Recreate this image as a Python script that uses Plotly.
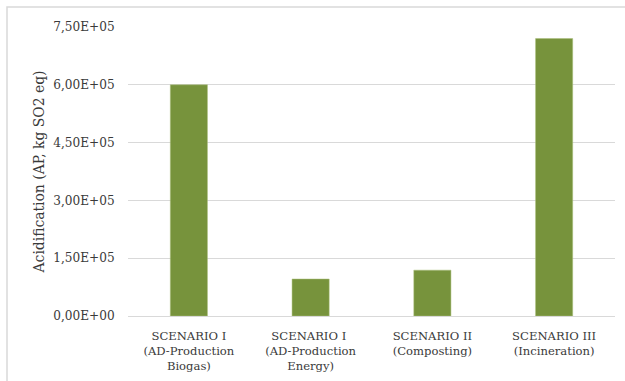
import plotly.graph_objects as go

# Scenario labels (two/three lines each) and acidification results
categories = [
    "SCENARIO I<br>(AD-Production<br>Biogas)",
    "SCENARIO I <br>(AD-Production<br>Energy)",
    "SCENARIO II<br>(Composting)",
    "SCENARIO III<br>(Incineration)",
]
acidification = [6.00e5, 9.6e4, 1.19e5, 7.20e5]

tick_values = [0, 1.5e5, 3.0e5, 4.5e5, 6.0e5, 7.5e5]
tick_labels = ["0,00E+00", "1,50E+05", "3,00E+05", "4,50E+05", "6,00E+05", "7,50E+05"]

W, H = 625, 381
ML, MR, MT, MB = 128, 10, 27, 65
PW, PH = W - ML - MR, H - MT - MB

fig = go.Figure(
    go.Bar(
        x=categories,
        y=acidification,
        marker=dict(color="#77933C", line=dict(color="#A9BF7A", width=0.5)),
    )
)

font_family = "DejaVu Serif"
text_color = "#3a3a3a"

fig.update_layout(
    width=W,
    height=H,
    margin=dict(l=ML, r=MR, t=MT, b=MB),
    paper_bgcolor="white",
    plot_bgcolor="white",
    bargap=0.695,
    showlegend=False,
    font=dict(family=font_family, color=text_color),
    shapes=[
        # chart-area frame
        dict(
            type="rect",
            xref="paper",
            yref="paper",
            x0=(7 - ML) / PW,
            x1=1.2,
            y0=-0.4,
            y1=1 + (MT - 7) / PH,
            line=dict(color="#D9D9D9", width=1.5),
            fillcolor="rgba(0,0,0,0)",
            layer="below",
        )
    ],
)

fig.update_xaxes(
    automargin=False,
    showgrid=False,
    showline=True,
    linecolor="#D9D9D9",
    linewidth=1,
    ticks="outside",
    ticklen=9,
    tickcolor="rgba(0,0,0,0)",
    tickfont=dict(family=font_family, size=11.6, color=text_color),
)

fig.update_yaxes(
    automargin=False,
    range=[0, 7.5e5],
    tickvals=tick_values,
    ticktext=tick_labels,
    showgrid=True,
    gridcolor="#D9D9D9",
    gridwidth=1,
    zeroline=False,
    showline=False,
    ticks="outside",
    ticklen=10,
    tickcolor="rgba(0,0,0,0)",
    tickfont=dict(family=font_family, size=12.1, color=text_color),
    title=dict(
        text="Acidification (AP, kg SO2 eq)",
        font=dict(family=font_family, size=13.9, color=text_color),
        standoff=5,
    ),
)

fig.write_html("out.html")
